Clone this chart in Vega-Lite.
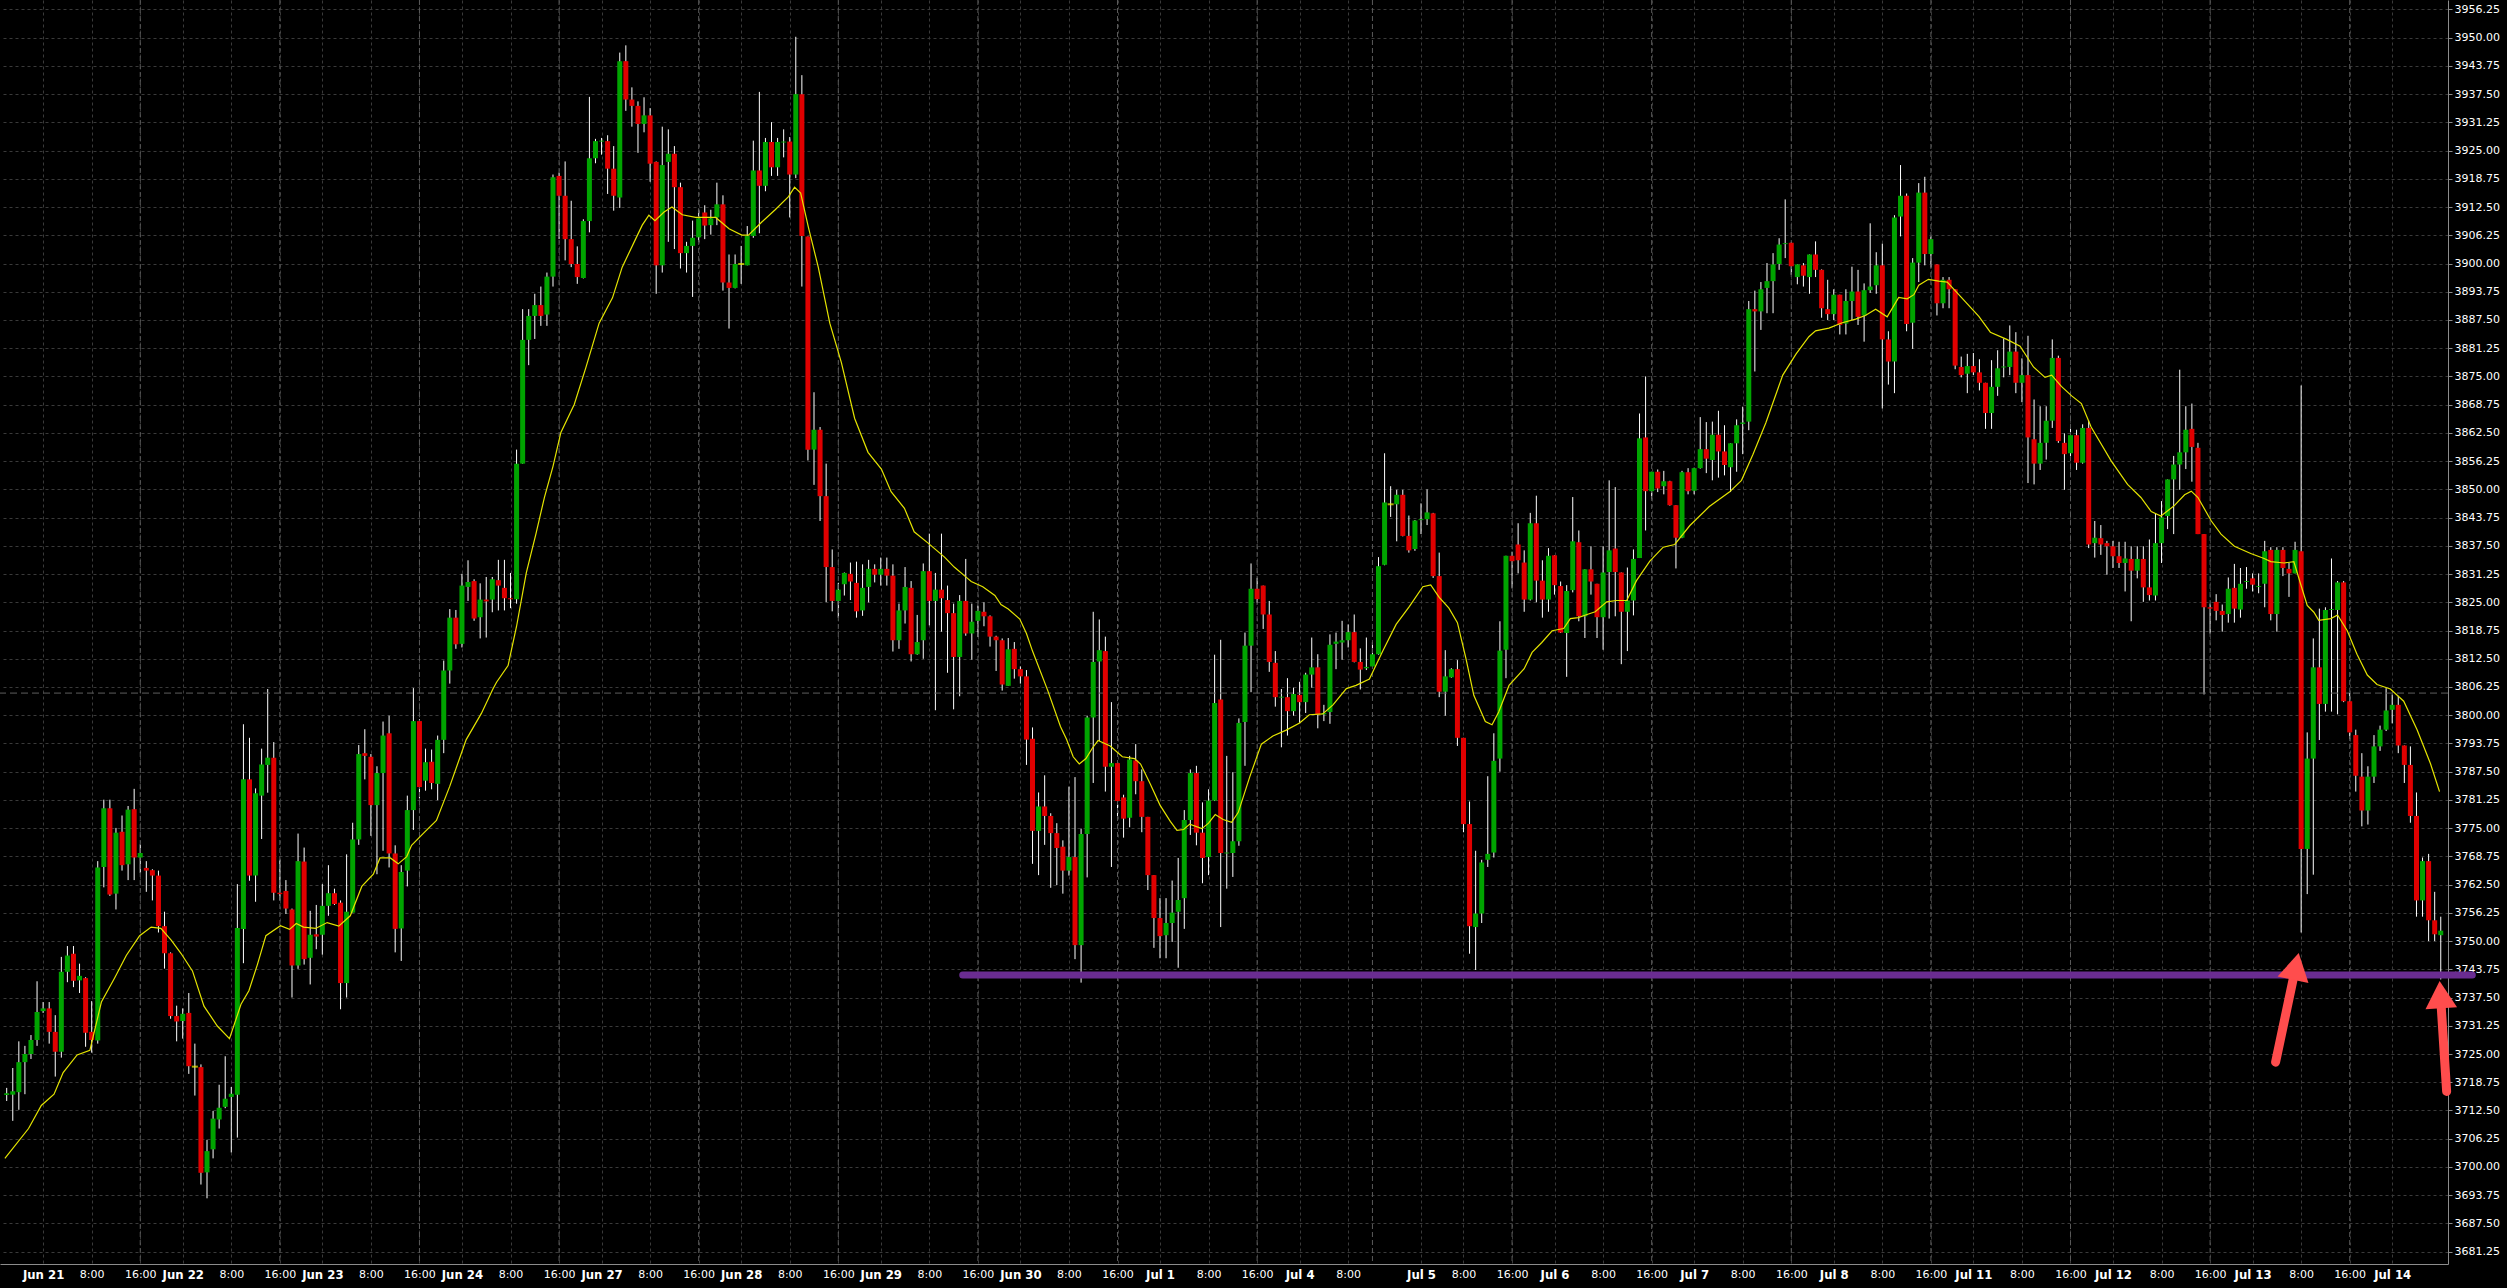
{
  "$schema": "https://vega.github.io/schema/vega-lite/v6.json",
  "autosize": {"type": "none"},
  "padding": {"left": 0, "top": 0, "right": 59, "bottom": 24},
  "width": 2448,
  "height": 1264,
  "background": "#000000",
  "config": {"view": {"stroke": null}},
  "datasets": {
    "bars": [
      {"i":0,"o":3715.9,"h":3717.5,"l":3714.6,"c":3716.3},{"i":1,"o":3716.0,"h":3721.9,"l":3710.2,"c":3716.75},{"i":2,"o":3716.55,"h":3727.8,"l":3712.65,"c":3723.2},{"i":3,"o":3723.2,"h":3726.8,"l":3716.1,"c":3725.0},{"i":4,"o":3725.0,"h":3729.2,"l":3723.9,"c":3728.1},{"i":5,"o":3728.1,"h":3741.1,"l":3726.8,"c":3734.3},{"i":6,"o":3734.5,"h":3736.5,"l":3734.1,"c":3735.1},{"i":7,"o":3735.1,"h":3736.5,"l":3727.3,"c":3729.9},{"i":8,"o":3729.9,"h":3733.6,"l":3720.0,"c":3725.5},{"i":9,"o":3725.5,"h":3746.5,"l":3724.2,"c":3743.2},
      {"i":10,"o":3743.2,"h":3748.9,"l":3740.9,"c":3746.8},{"i":11,"o":3747.2,"h":3748.9,"l":3739.8,"c":3741.2},{"i":12,"o":3741.3,"h":3745.0,"l":3738.5,"c":3742.3},{"i":13,"o":3741.8,"h":3742.0,"l":3726.6,"c":3729.7},{"i":14,"o":3729.9,"h":3736.7,"l":3725.3,"c":3728.1},{"i":15,"o":3728.0,"h":3767.7,"l":3727.3,"c":3766.3},{"i":16,"o":3766.4,"h":3781.3,"l":3761.9,"c":3779.4},{"i":17,"o":3779.4,"h":3781.3,"l":3760.0,"c":3760.3},{"i":18,"o":3760.5,"h":3775.05,"l":3757.0,"c":3774.0},{"i":19,"o":3774.2,"h":3777.8,"l":3765.6,"c":3766.8},
      {"i":20,"o":3767.0,"h":3779.9,"l":3763.5,"c":3779.1},{"i":21,"o":3779.2,"h":3783.7,"l":3763.5,"c":3768.5},{"i":22,"o":3768.5,"h":3771.4,"l":3765.1,"c":3769.5},{"i":23,"o":3766.2,"h":3767.7,"l":3760.9,"c":3765.6},{"i":24,"o":3765.7,"h":3765.9,"l":3759.0,"c":3764.5},{"i":25,"o":3764.5,"h":3765.6,"l":3751.9,"c":3753.3},{"i":26,"o":3753.3,"h":3756.5,"l":3743.9,"c":3747.3},{"i":27,"o":3747.3,"h":3747.5,"l":3732.8,"c":3733.4},{"i":28,"o":3733.4,"h":3735.7,"l":3727.8,"c":3732.2},{"i":29,"o":3732.3,"h":3735.1,"l":3728.4,"c":3733.9},
      {"i":30,"o":3734.1,"h":3738.5,"l":3720.6,"c":3722.3},{"i":31,"o":3722.2,"h":3727.3,"l":3715.8,"c":3722.2},{"i":32,"o":3722.1,"h":3722.7,"l":3696.1,"c":3698.7},{"i":33,"o":3698.8,"h":3706.0,"l":3693.05,"c":3703.5},{"i":34,"o":3703.9,"h":3712.4,"l":3701.9,"c":3710.7},{"i":35,"o":3710.5,"h":3718.2,"l":3708.5,"c":3713.1},{"i":36,"o":3713.3,"h":3724.5,"l":3713.0,"c":3715.1},{"i":37,"o":3715.5,"h":3717.7,"l":3703.2,"c":3716.2},{"i":38,"o":3716.0,"h":3762.6,"l":3706.5,"c":3752.9},{"i":39,"o":3752.7,"h":3798.0,"l":3745.1,"c":3785.8},
      {"i":40,"o":3785.8,"h":3795.0,"l":3763.35,"c":3764.5},{"i":41,"o":3764.5,"h":3783.8,"l":3758.7,"c":3782.7},{"i":42,"o":3782.2,"h":3792.6,"l":3772.6,"c":3789.1},{"i":43,"o":3789.0,"h":3805.8,"l":3782.85,"c":3790.6},{"i":44,"o":3790.6,"h":3794.05,"l":3759.0,"c":3760.7},{"i":45,"o":3760.7,"h":3768.0,"l":3759.0,"c":3760.4},{"i":46,"o":3761.1,"h":3763.5,"l":3756.0,"c":3757.2},{"i":47,"o":3757.0,"h":3757.2,"l":3737.5,"c":3744.6},{"i":48,"o":3744.6,"h":3773.8,"l":3743.85,"c":3767.7},{"i":49,"o":3767.6,"h":3770.7,"l":3744.8,"c":3746.0},
      {"i":50,"o":3746.3,"h":3756.7,"l":3740.4,"c":3751.4},{"i":51,"o":3751.5,"h":3758.0,"l":3748.2,"c":3751.0},{"i":52,"o":3751.4,"h":3762.6,"l":3747.0,"c":3757.8},{"i":53,"o":3757.8,"h":3766.8,"l":3755.6,"c":3760.6},{"i":54,"o":3760.6,"h":3761.6,"l":3758.0,"c":3758.2},{"i":55,"o":3758.5,"h":3759.0,"l":3734.9,"c":3740.7},{"i":56,"o":3740.7,"h":3769.2,"l":3737.5,"c":3756.5},{"i":57,"o":3756.3,"h":3776.2,"l":3756.3,"c":3772.5},{"i":58,"o":3772.5,"h":3793.4,"l":3771.3,"c":3791.4},{"i":59,"o":3791.6,"h":3796.9,"l":3785.8,"c":3791.0},
      {"i":60,"o":3790.8,"h":3791.4,"l":3773.3,"c":3780.1},{"i":61,"o":3780.1,"h":3788.7,"l":3764.8,"c":3787.2},{"i":62,"o":3787.2,"h":3798.6,"l":3770.0,"c":3795.5},{"i":63,"o":3796.0,"h":3799.9,"l":3766.3,"c":3769.4},{"i":64,"o":3769.4,"h":3771.2,"l":3747.5,"c":3752.7},{"i":65,"o":3752.8,"h":3766.8,"l":3745.6,"c":3765.3},{"i":66,"o":3765.6,"h":3782.2,"l":3762.1,"c":3779.0},{"i":67,"o":3779.0,"h":3806.0,"l":3774.6,"c":3798.7},{"i":68,"o":3798.7,"h":3799.1,"l":3781.6,"c":3784.1},{"i":69,"o":3785.5,"h":3792.6,"l":3783.3,"c":3789.6},
      {"i":70,"o":3789.7,"h":3792.4,"l":3783.6,"c":3785.0},{"i":71,"o":3784.8,"h":3795.5,"l":3781.2,"c":3794.55},{"i":72,"o":3794.55,"h":3812.1,"l":3791.6,"c":3809.9},{"i":73,"o":3809.9,"h":3823.5,"l":3807.0,"c":3821.6},{"i":74,"o":3821.6,"h":3823.3,"l":3814.7,"c":3815.7},{"i":75,"o":3815.8,"h":3831.3,"l":3815.0,"c":3828.7},{"i":76,"o":3828.4,"h":3834.3,"l":3825.3,"c":3829.5},{"i":77,"o":3829.7,"h":3830.1,"l":3820.9,"c":3821.4},{"i":78,"o":3821.7,"h":3829.2,"l":3817.0,"c":3825.6},{"i":79,"o":3825.6,"h":3830.6,"l":3817.2,"c":3825.2},
      {"i":80,"o":3825.6,"h":3830.6,"l":3822.8,"c":3830.1},{"i":81,"o":3829.9,"h":3834.4,"l":3823.2,"c":3828.7},{"i":82,"o":3828.2,"h":3834.4,"l":3823.2,"c":3825.9},{"i":83,"o":3825.9,"h":3831.5,"l":3823.7,"c":3825.7},{"i":84,"o":3825.7,"h":3858.8,"l":3824.7,"c":3855.7},{"i":85,"o":3855.7,"h":3889.9,"l":3855.7,"c":3883.1},{"i":86,"o":3883.1,"h":3889.9,"l":3877.5,"c":3888.4},{"i":87,"o":3888.4,"h":3893.3,"l":3883.3,"c":3890.8},{"i":88,"o":3890.8,"h":3894.9,"l":3886.2,"c":3888.4},{"i":89,"o":3888.7,"h":3898.0,"l":3886.2,"c":3897.1},
      {"i":90,"o":3897.1,"h":3919.7,"l":3894.9,"c":3919.1},{"i":91,"o":3919.4,"h":3920.1,"l":3905.4,"c":3915.0},{"i":92,"o":3915.0,"h":3922.6,"l":3900.7,"c":3905.4},{"i":93,"o":3905.4,"h":3913.9,"l":3899.2,"c":3899.9},{"i":94,"o":3899.9,"h":3903.8,"l":3895.5,"c":3897.0},{"i":95,"o":3896.8,"h":3909.8,"l":3896.7,"c":3909.4},{"i":96,"o":3909.4,"h":3936.9,"l":3906.9,"c":3923.3},{"i":97,"o":3923.3,"h":3927.6,"l":3922.2,"c":3927.1},{"i":98,"o":3927.0,"h":3927.8,"l":3924.1,"c":3927.2},{"i":99,"o":3927.1,"h":3928.4,"l":3915.4,"c":3921.0},
      {"i":100,"o":3921.0,"h":3926.0,"l":3911.7,"c":3915.0},{"i":101,"o":3914.6,"h":3946.7,"l":3912.3,"c":3944.8},{"i":102,"o":3944.8,"h":3948.3,"l":3933.8,"c":3936.3},{"i":103,"o":3936.3,"h":3939.0,"l":3930.3,"c":3934.9},{"i":104,"o":3934.9,"h":3935.9,"l":3924.5,"c":3930.9},{"i":105,"o":3930.9,"h":3936.8,"l":3929.05,"c":3932.8},{"i":106,"o":3932.8,"h":3934.4,"l":3918.1,"c":3922.1},{"i":107,"o":3922.5,"h":3922.6,"l":3893.3,"c":3899.6},{"i":108,"o":3899.6,"h":3930.3,"l":3898.0,"c":3921.8},{"i":109,"o":3922.5,"h":3929.7,"l":3904.8,"c":3924.3},
      {"i":110,"o":3924.3,"h":3926.0,"l":3903.2,"c":3916.9},{"i":111,"o":3916.9,"h":3917.9,"l":3898.9,"c":3902.3},{"i":112,"o":3902.3,"h":3904.8,"l":3898.0,"c":3903.9},{"i":113,"o":3903.9,"h":3909.5,"l":3892.6,"c":3905.7},{"i":114,"o":3905.8,"h":3912.0,"l":3904.8,"c":3910.0},{"i":115,"o":3911.3,"h":3912.9,"l":3905.4,"c":3908.4},{"i":116,"o":3908.5,"h":3911.9,"l":3906.4,"c":3910.0},{"i":117,"o":3910.2,"h":3917.9,"l":3908.5,"c":3913.1},{"i":118,"o":3913.1,"h":3915.1,"l":3894.0,"c":3895.8},{"i":119,"o":3895.8,"h":3902.0,"l":3885.6,"c":3894.6},
      {"i":120,"o":3894.6,"h":3902.0,"l":3894.5,"c":3899.9},{"i":121,"o":3899.9,"h":3903.9,"l":3895.5,"c":3899.9},{"i":122,"o":3899.6,"h":3908.3,"l":3899.6,"c":3906.1},{"i":123,"o":3906.1,"h":3927.2,"l":3905.7,"c":3920.6},{"i":124,"o":3920.6,"h":3938.0,"l":3906.7,"c":3917.2},{"i":125,"o":3917.2,"h":3927.8,"l":3916.0,"c":3926.9},{"i":126,"o":3926.9,"h":3931.3,"l":3919.4,"c":3921.3},{"i":127,"o":3921.3,"h":3927.8,"l":3919.4,"c":3926.9},{"i":128,"o":3926.8,"h":3929.7,"l":3923.5,"c":3927.0},{"i":129,"o":3927.0,"h":3928.0,"l":3910.2,"c":3919.7},
      {"i":130,"o":3919.7,"h":3950.2,"l":3918.9,"c":3937.5},{"i":131,"o":3937.5,"h":3941.7,"l":3894.9,"c":3906.1},{"i":132,"o":3906.0,"h":3906.0,"l":3856.4,"c":3858.8},{"i":133,"o":3858.8,"h":3871.5,"l":3851.0,"c":3863.2},{"i":134,"o":3863.2,"h":3863.8,"l":3843.0,"c":3848.5},{"i":135,"o":3848.5,"h":3855.7,"l":3825.05,"c":3832.8},{"i":136,"o":3832.8,"h":3836.7,"l":3823.0,"c":3825.3},{"i":137,"o":3825.3,"h":3829.3,"l":3821.6,"c":3827.8},{"i":138,"o":3829.0,"h":3831.6,"l":3826.5,"c":3831.5},{"i":139,"o":3831.3,"h":3833.8,"l":3825.5,"c":3829.6},
      {"i":140,"o":3829.3,"h":3834.0,"l":3821.6,"c":3823.0},{"i":141,"o":3823.2,"h":3833.4,"l":3822.0,"c":3828.2},{"i":142,"o":3828.4,"h":3834.4,"l":3825.0,"c":3832.4},{"i":143,"o":3832.4,"h":3833.4,"l":3829.4,"c":3831.1},{"i":144,"o":3831.1,"h":3834.9,"l":3828.7,"c":3832.4},{"i":145,"o":3832.4,"h":3834.9,"l":3828.7,"c":3830.9},{"i":146,"o":3830.9,"h":3833.4,"l":3814.1,"c":3816.6},{"i":147,"o":3816.6,"h":3824.7,"l":3814.7,"c":3823.2},{"i":148,"o":3823.2,"h":3832.8,"l":3820.3,"c":3828.4},{"i":149,"o":3828.2,"h":3829.7,"l":3811.9,"c":3813.5},
      {"i":150,"o":3813.5,"h":3822.2,"l":3813.4,"c":3816.2},{"i":151,"o":3816.6,"h":3833.6,"l":3812.5,"c":3831.9},{"i":152,"o":3831.9,"h":3840.2,"l":3819.9,"c":3825.3},{"i":153,"o":3825.3,"h":3831.5,"l":3801.1,"c":3827.8},{"i":154,"o":3827.8,"h":3840.2,"l":3818.5,"c":3825.9},{"i":155,"o":3825.5,"h":3828.7,"l":3809.4,"c":3822.6},{"i":156,"o":3822.6,"h":3824.7,"l":3801.3,"c":3812.9},{"i":157,"o":3812.9,"h":3826.6,"l":3804.2,"c":3825.3},{"i":158,"o":3825.3,"h":3834.6,"l":3817.6,"c":3818.1},{"i":159,"o":3818.1,"h":3824.7,"l":3812.3,"c":3820.7},
      {"i":160,"o":3820.9,"h":3824.3,"l":3817.3,"c":3823.1},{"i":161,"o":3822.9,"h":3825.0,"l":3819.7,"c":3821.9},{"i":162,"o":3821.9,"h":3822.1,"l":3815.2,"c":3817.4},{"i":163,"o":3817.4,"h":3817.6,"l":3809.8,"c":3816.6},{"i":164,"o":3816.6,"h":3817.0,"l":3805.45,"c":3806.8},{"i":165,"o":3806.5,"h":3817.1,"l":3806.5,"c":3814.6},{"i":166,"o":3814.7,"h":3816.2,"l":3808.1,"c":3810.2},{"i":167,"o":3810.2,"h":3810.8,"l":3807.0,"c":3808.6},{"i":168,"o":3808.6,"h":3810.0,"l":3789.0,"c":3794.6},{"i":169,"o":3794.8,"h":3797.3,"l":3767.1,"c":3774.4},
      {"i":170,"o":3774.4,"h":3782.9,"l":3764.6,"c":3779.8},{"i":171,"o":3779.8,"h":3786.7,"l":3771.3,"c":3777.7},{"i":172,"o":3777.7,"h":3778.3,"l":3761.8,"c":3773.9},{"i":173,"o":3773.9,"h":3776.1,"l":3762.4,"c":3770.6},{"i":174,"o":3770.9,"h":3772.3,"l":3760.5,"c":3765.6},{"i":175,"o":3765.6,"h":3784.2,"l":3764.5,"c":3768.6},{"i":176,"o":3768.6,"h":3786.3,"l":3746.0,"c":3749.1},{"i":177,"o":3749.1,"h":3774.9,"l":3740.8,"c":3773.7},{"i":178,"o":3773.7,"h":3799.9,"l":3764.1,"c":3799.5},{"i":179,"o":3799.5,"h":3822.9,"l":3785.0,"c":3811.8},
      {"i":180,"o":3811.9,"h":3821.2,"l":3794.3,"c":3814.4},{"i":181,"o":3814.2,"h":3817.4,"l":3783.1,"c":3788.6},{"i":182,"o":3788.6,"h":3802.9,"l":3766.4,"c":3789.4},{"i":183,"o":3789.4,"h":3789.4,"l":3777.7,"c":3781.0},{"i":184,"o":3781.8,"h":3782.4,"l":3772.9,"c":3777.1},{"i":185,"o":3777.3,"h":3791.0,"l":3775.2,"c":3790.2},{"i":186,"o":3790.0,"h":3793.6,"l":3782.5,"c":3785.4},{"i":187,"o":3785.4,"h":3788.0,"l":3774.1,"c":3777.5},{"i":188,"o":3777.5,"h":3777.5,"l":3761.3,"c":3764.6},{"i":189,"o":3764.6,"h":3764.6,"l":3748.5,"c":3755.1},
      {"i":190,"o":3755.1,"h":3759.5,"l":3746.2,"c":3751.1},{"i":191,"o":3751.3,"h":3759.5,"l":3746.2,"c":3754.0},{"i":192,"o":3754.0,"h":3763.4,"l":3749.8,"c":3756.3},{"i":193,"o":3756.5,"h":3768.4,"l":3744.1,"c":3759.1},{"i":194,"o":3759.5,"h":3779.0,"l":3752.7,"c":3776.8},{"i":195,"o":3776.8,"h":3788.0,"l":3773.5,"c":3787.2},{"i":196,"o":3787.2,"h":3788.8,"l":3771.2,"c":3774.0},{"i":197,"o":3774.0,"h":3780.7,"l":3762.8,"c":3768.4},{"i":198,"o":3768.6,"h":3783.6,"l":3764.6,"c":3781.1},{"i":199,"o":3781.1,"h":3813.4,"l":3781.0,"c":3802.7},
      {"i":200,"o":3803.5,"h":3816.7,"l":3753.1,"c":3769.5},{"i":201,"o":3769.4,"h":3791.0,"l":3761.6,"c":3769.6},{"i":202,"o":3769.5,"h":3787.4,"l":3764.2,"c":3772.1},{"i":203,"o":3772.1,"h":3799.3,"l":3771.1,"c":3798.3},{"i":204,"o":3798.5,"h":3818.3,"l":3788.8,"c":3815.4},{"i":205,"o":3815.4,"h":3833.6,"l":3805.1,"c":3828.0},{"i":206,"o":3828.0,"h":3830.4,"l":3824.9,"c":3825.7},{"i":207,"o":3828.7,"h":3828.7,"l":3819.1,"c":3822.3},{"i":208,"o":3822.3,"h":3825.3,"l":3809.6,"c":3811.8},{"i":209,"o":3811.6,"h":3814.2,"l":3801.9,"c":3804.0},
      {"i":210,"o":3803.9,"h":3805.8,"l":3792.9,"c":3804.1},{"i":211,"o":3804.0,"h":3808.2,"l":3795.5,"c":3800.9},{"i":212,"o":3800.9,"h":3806.1,"l":3799.9,"c":3804.7},{"i":213,"o":3804.5,"h":3807.4,"l":3798.3,"c":3802.9},{"i":214,"o":3802.9,"h":3809.4,"l":3800.5,"c":3809.0},{"i":215,"o":3809.0,"h":3817.2,"l":3806.1,"c":3810.6},{"i":216,"o":3810.6,"h":3813.5,"l":3797.1,"c":3800.1},{"i":217,"o":3800.2,"h":3802.3,"l":3798.7,"c":3800.5},{"i":218,"o":3800.7,"h":3817.9,"l":3798.1,"c":3815.6},{"i":219,"o":3815.8,"h":3818.3,"l":3810.2,"c":3816.3},
      {"i":220,"o":3816.1,"h":3820.9,"l":3812.3,"c":3816.6},{"i":221,"o":3816.6,"h":3820.1,"l":3815.0,"c":3818.4},{"i":222,"o":3818.4,"h":3822.3,"l":3811.7,"c":3811.8},{"i":223,"o":3811.8,"h":3814.8,"l":3805.7,"c":3810.1},{"i":224,"o":3810.4,"h":3817.2,"l":3810.0,"c":3810.7},{"i":225,"o":3810.8,"h":3816.2,"l":3810.8,"c":3813.5},{"i":226,"o":3813.5,"h":3835.0,"l":3813.4,"c":3833.0},{"i":227,"o":3833.3,"h":3858.0,"l":3833.2,"c":3847.1},{"i":228,"o":3846.7,"h":3850.7,"l":3843.9,"c":3846.7},{"i":229,"o":3846.7,"h":3849.9,"l":3838.5,"c":3848.8},
      {"i":230,"o":3848.8,"h":3849.9,"l":3839.6,"c":3839.7},{"i":231,"o":3839.7,"h":3844.2,"l":3836.0,"c":3836.5},{"i":232,"o":3836.8,"h":3843.2,"l":3836.4,"c":3843.1},{"i":233,"o":3843.2,"h":3846.9,"l":3840.1,"c":3843.4},{"i":234,"o":3843.4,"h":3850.0,"l":3842.1,"c":3844.9},{"i":235,"o":3844.7,"h":3844.8,"l":3830.4,"c":3830.8},{"i":236,"o":3830.8,"h":3836.0,"l":3804.0,"c":3805.2},{"i":237,"o":3805.2,"h":3814.4,"l":3799.9,"c":3808.6},{"i":238,"o":3808.4,"h":3810.4,"l":3808.3,"c":3810.2},{"i":239,"o":3810.2,"h":3812.2,"l":3793.2,"c":3795.0},
      {"i":240,"o":3795.0,"h":3795.0,"l":3774.1,"c":3775.9},{"i":241,"o":3775.9,"h":3780.9,"l":3747.2,"c":3753.3},{"i":242,"o":3753.1,"h":3770.0,"l":3743.6,"c":3756.1},{"i":243,"o":3756.1,"h":3768.0,"l":3754.0,"c":3767.4},{"i":244,"o":3768.0,"h":3786.5,"l":3766.4,"c":3769.3},{"i":245,"o":3769.6,"h":3796.0,"l":3768.5,"c":3789.9},{"i":246,"o":3790.4,"h":3820.8,"l":3787.5,"c":3814.3},{"i":247,"o":3814.5,"h":3835.3,"l":3808.2,"c":3835.3},{"i":248,"o":3835.3,"h":3836.2,"l":3828.2,"c":3834.1},{"i":249,"o":3837.8,"h":3842.5,"l":3831.4,"c":3834.3},
      {"i":250,"o":3833.8,"h":3836.5,"l":3822.9,"c":3825.6},{"i":251,"o":3825.6,"h":3844.8,"l":3825.4,"c":3842.5},{"i":252,"o":3842.5,"h":3848.6,"l":3825.0,"c":3829.8},{"i":253,"o":3829.8,"h":3834.3,"l":3821.6,"c":3825.6},{"i":254,"o":3825.6,"h":3837.0,"l":3822.9,"c":3835.3},{"i":255,"o":3835.4,"h":3835.4,"l":3826.7,"c":3828.8},{"i":256,"o":3828.6,"h":3829.6,"l":3818.2,"c":3818.3},{"i":257,"o":3818.2,"h":3828.8,"l":3808.5,"c":3827.5},{"i":258,"o":3827.7,"h":3848.3,"l":3827.2,"c":3838.5},{"i":259,"o":3838.3,"h":3840.9,"l":3820.8,"c":3821.9},
      {"i":260,"o":3821.9,"h":3832.3,"l":3817.1,"c":3832.3},{"i":261,"o":3832.3,"h":3837.4,"l":3826.7,"c":3829.6},{"i":262,"o":3829.1,"h":3829.1,"l":3817.1,"c":3821.7},{"i":263,"o":3821.7,"h":3837.4,"l":3814.5,"c":3831.6},{"i":264,"o":3831.7,"h":3852.0,"l":3821.4,"c":3836.5},{"i":265,"o":3836.9,"h":3850.5,"l":3821.9,"c":3831.7},{"i":266,"o":3831.6,"h":3831.6,"l":3811.3,"c":3822.9},{"i":267,"o":3822.9,"h":3832.7,"l":3814.2,"c":3825.4},{"i":268,"o":3825.4,"h":3836.7,"l":3822.1,"c":3834.6},{"i":269,"o":3834.8,"h":3866.8,"l":3834.8,"c":3861.3},
      {"i":270,"o":3861.5,"h":3875.0,"l":3840.9,"c":3849.6},{"i":271,"o":3849.6,"h":3853.9,"l":3847.8,"c":3853.9},{"i":272,"o":3853.9,"h":3854.4,"l":3849.4,"c":3850.2},{"i":273,"o":3850.7,"h":3854.1,"l":3848.9,"c":3851.8},{"i":274,"o":3851.8,"h":3851.9,"l":3846.4,"c":3846.5},{"i":275,"o":3846.5,"h":3846.5,"l":3832.5,"c":3839.3},{"i":276,"o":3839.3,"h":3854.1,"l":3839.2,"c":3853.8},{"i":277,"o":3853.8,"h":3854.7,"l":3848.9,"c":3849.6},{"i":278,"o":3849.7,"h":3854.8,"l":3848.9,"c":3854.7},{"i":279,"o":3854.7,"h":3866.0,"l":3854.6,"c":3858.9},
      {"i":280,"o":3858.9,"h":3864.9,"l":3853.6,"c":3856.8},{"i":281,"o":3856.5,"h":3865.0,"l":3852.0,"c":3862.1},{"i":282,"o":3862.1,"h":3867.4,"l":3852.6,"c":3858.4},{"i":283,"o":3858.4,"h":3864.2,"l":3853.1,"c":3855.4},{"i":284,"o":3854.9,"h":3860.2,"l":3849.4,"c":3860.2},{"i":285,"o":3860.2,"h":3865.5,"l":3853.9,"c":3864.2},{"i":286,"o":3864.5,"h":3868.3,"l":3857.8,"c":3864.8},{"i":287,"o":3865.0,"h":3891.7,"l":3863.1,"c":3889.9},{"i":288,"o":3889.9,"h":3894.0,"l":3876.1,"c":3889.4},{"i":289,"o":3889.4,"h":3895.9,"l":3885.3,"c":3894.3},
      {"i":290,"o":3894.6,"h":3900.1,"l":3889.0,"c":3896.1},{"i":291,"o":3896.1,"h":3902.3,"l":3889.0,"c":3899.8},{"i":292,"o":3899.9,"h":3905.6,"l":3898.6,"c":3904.2},{"i":293,"o":3904.3,"h":3914.2,"l":3901.2,"c":3904.5},{"i":294,"o":3904.6,"h":3904.7,"l":3897.5,"c":3899.4},{"i":295,"o":3897.0,"h":3899.8,"l":3895.4,"c":3899.8},{"i":296,"o":3899.6,"h":3900.1,"l":3894.9,"c":3897.3},{"i":297,"o":3897.0,"h":3902.0,"l":3893.3,"c":3902.0},{"i":298,"o":3902.0,"h":3904.9,"l":3897.0,"c":3898.6},{"i":299,"o":3898.6,"h":3898.7,"l":3888.0,"c":3890.1},
      {"i":300,"o":3889.9,"h":3896.4,"l":3887.5,"c":3888.8},{"i":301,"o":3888.8,"h":3894.3,"l":3887.5,"c":3893.1},{"i":302,"o":3893.1,"h":3893.1,"l":3884.3,"c":3886.4},{"i":303,"o":3886.7,"h":3894.3,"l":3884.3,"c":3891.7},{"i":304,"o":3891.7,"h":3899.3,"l":3887.5,"c":3893.8},{"i":305,"o":3893.8,"h":3898.6,"l":3886.4,"c":3888.2},{"i":306,"o":3888.5,"h":3895.6,"l":3882.7,"c":3894.1},{"i":307,"o":3894.1,"h":3908.9,"l":3893.5,"c":3894.9},{"i":308,"o":3895.2,"h":3902.5,"l":3893.3,"c":3899.6},{"i":309,"o":3899.6,"h":3904.4,"l":3867.9,"c":3883.2},
      {"i":310,"o":3883.2,"h":3885.0,"l":3873.2,"c":3878.3},{"i":311,"o":3878.3,"h":3910.7,"l":3871.3,"c":3910.2},{"i":312,"o":3910.4,"h":3921.8,"l":3906.0,"c":3915.0},{"i":313,"o":3915.0,"h":3915.5,"l":3885.0,"c":3886.6},{"i":314,"o":3886.9,"h":3901.2,"l":3881.1,"c":3900.2},{"i":315,"o":3900.2,"h":3917.8,"l":3895.9,"c":3915.7},{"i":316,"o":3915.7,"h":3919.2,"l":3899.6,"c":3902.1},{"i":317,"o":3902.1,"h":3906.0,"l":3899.1,"c":3905.4},{"i":318,"o":3899.8,"h":3899.8,"l":3888.5,"c":3891.2},{"i":319,"o":3891.2,"h":3897.0,"l":3890.1,"c":3896.4},
      {"i":320,"o":3896.4,"h":3897.0,"l":3890.1,"c":3894.3},{"i":321,"o":3894.3,"h":3894.3,"l":3876.6,"c":3877.4},{"i":322,"o":3877.1,"h":3879.4,"l":3874.8,"c":3875.3},{"i":323,"o":3875.6,"h":3880.0,"l":3871.3,"c":3877.3},{"i":324,"o":3877.3,"h":3880.2,"l":3875.3,"c":3875.9},{"i":325,"o":3875.9,"h":3878.8,"l":3871.9,"c":3873.6},{"i":326,"o":3873.6,"h":3873.6,"l":3863.4,"c":3866.9},{"i":327,"o":3866.9,"h":3878.6,"l":3863.4,"c":3872.7},{"i":328,"o":3872.7,"h":3880.8,"l":3870.7,"c":3876.8},{"i":329,"o":3877.0,"h":3883.4,"l":3874.8,"c":3877.2},
      {"i":330,"o":3877.1,"h":3886.3,"l":3875.3,"c":3880.5},{"i":331,"o":3880.5,"h":3884.8,"l":3871.3,"c":3873.6},{"i":332,"o":3873.6,"h":3879.0,"l":3869.3,"c":3875.3},{"i":333,"o":3875.3,"h":3884.0,"l":3851.4,"c":3861.5},{"i":334,"o":3861.1,"h":3869.9,"l":3851.1,"c":3855.7},{"i":335,"o":3855.7,"h":3868.4,"l":3854.3,"c":3860.3},{"i":336,"o":3860.3,"h":3868.4,"l":3856.6,"c":3865.2},{"i":337,"o":3865.2,"h":3883.2,"l":3863.6,"c":3879.1},{"i":338,"o":3879.1,"h":3879.6,"l":3860.3,"c":3860.7},{"i":339,"o":3860.3,"h":3862.4,"l":3849.9,"c":3857.8},
      {"i":340,"o":3858.0,"h":3863.8,"l":3856.9,"c":3862.0},{"i":341,"o":3862.0,"h":3863.2,"l":3854.3,"c":3855.9},{"i":342,"o":3855.9,"h":3864.4,"l":3855.7,"c":3863.6},{"i":343,"o":3863.6,"h":3865.2,"l":3837.0,"c":3837.8},{"i":344,"o":3838.1,"h":3843.0,"l":3834.9,"c":3839.3},{"i":345,"o":3839.2,"h":3842.1,"l":3835.5,"c":3837.8},{"i":346,"o":3838.1,"h":3838.6,"l":3831.1,"c":3837.4},{"i":347,"o":3837.4,"h":3838.6,"l":3832.6,"c":3835.2},{"i":348,"o":3835.2,"h":3838.4,"l":3832.6,"c":3833.7},{"i":349,"o":3833.7,"h":3838.4,"l":3827.4,"c":3834.7},
      {"i":350,"o":3834.6,"h":3837.4,"l":3820.8,"c":3832.0},{"i":351,"o":3832.0,"h":3837.4,"l":3830.3,"c":3834.6},{"i":352,"o":3834.6,"h":3837.4,"l":3825.1,"c":3828.3},{"i":353,"o":3828.3,"h":3838.9,"l":3825.4,"c":3826.6},{"i":354,"o":3826.5,"h":3844.7,"l":3825.4,"c":3838.1},{"i":355,"o":3838.1,"h":3847.4,"l":3833.7,"c":3843.8},{"i":356,"o":3844.1,"h":3852.2,"l":3841.2,"c":3852.2},{"i":357,"o":3852.2,"h":3857.4,"l":3840.1,"c":3855.5},{"i":358,"o":3855.5,"h":3876.5,"l":3849.9,"c":3858.2},{"i":359,"o":3858.2,"h":3868.4,"l":3854.5,"c":3863.2},
      {"i":360,"o":3863.4,"h":3869.0,"l":3851.7,"c":3859.4},{"i":361,"o":3859.2,"h":3860.3,"l":3840.1,"c":3840.1},{"i":362,"o":3840.1,"h":3840.1,"l":3804.6,"c":3823.9},{"i":363,"o":3823.9,"h":3824.7,"l":3818.1,"c":3823.6},{"i":364,"o":3825.1,"h":3826.8,"l":3821.0,"c":3823.1},{"i":365,"o":3823.1,"h":3824.5,"l":3818.5,"c":3822.2},{"i":366,"o":3822.4,"h":3830.5,"l":3820.5,"c":3828.0},{"i":367,"o":3828.2,"h":3833.5,"l":3820.5,"c":3823.6},{"i":368,"o":3823.4,"h":3832.6,"l":3821.6,"c":3829.1},{"i":369,"o":3829.5,"h":3832.8,"l":3828.0,"c":3829.7},
      {"i":370,"o":3830.3,"h":3831.4,"l":3827.4,"c":3828.9},{"i":371,"o":3828.4,"h":3831.4,"l":3827.0,"c":3828.6},{"i":372,"o":3829.1,"h":3838.6,"l":3823.9,"c":3836.3},{"i":373,"o":3836.6,"h":3837.2,"l":3821.0,"c":3822.4},{"i":374,"o":3822.4,"h":3837.2,"l":3818.5,"c":3836.6},{"i":375,"o":3836.6,"h":3837.2,"l":3830.8,"c":3832.6},{"i":376,"o":3832.4,"h":3833.7,"l":3826.2,"c":3831.4},{"i":377,"o":3831.4,"h":3838.4,"l":3831.4,"c":3836.6},{"i":378,"o":3836.3,"h":3873.0,"l":3751.9,"c":3770.4},{"i":379,"o":3770.4,"h":3796.2,"l":3760.4,"c":3790.4},
      {"i":380,"o":3790.4,"h":3817.0,"l":3764.7,"c":3810.6},{"i":381,"o":3810.6,"h":3823.6,"l":3794.5,"c":3802.5},{"i":382,"o":3802.5,"h":3823.9,"l":3800.8,"c":3823.3},{"i":383,"o":3823.3,"h":3834.7,"l":3800.8,"c":3823.5},{"i":384,"o":3823.3,"h":3829.7,"l":3800.2,"c":3829.4},{"i":385,"o":3829.4,"h":3829.7,"l":3802.9,"c":3803.1},{"i":386,"o":3803.1,"h":3804.9,"l":3794.7,"c":3796.2},{"i":387,"o":3795.6,"h":3796.8,"l":3783.1,"c":3786.6},{"i":388,"o":3786.4,"h":3791.6,"l":3775.4,"c":3778.9},{"i":389,"o":3778.9,"h":3788.7,"l":3775.8,"c":3786.4},
      {"i":390,"o":3786.4,"h":3795.6,"l":3785.0,"c":3793.1},{"i":391,"o":3793.1,"h":3797.7,"l":3792.1,"c":3796.8},{"i":392,"o":3796.8,"h":3806.0,"l":3796.5,"c":3801.05},{"i":393,"o":3801.2,"h":3804.6,"l":3798.2,"c":3802.3},{"i":394,"o":3802.3,"h":3804.3,"l":3791.6,"c":3793.3},{"i":395,"o":3793.3,"h":3793.3,"l":3785.0,"c":3789.0},{"i":396,"o":3789.0,"h":3793.1,"l":3776.2,"c":3777.7},{"i":397,"o":3777.7,"h":3782.9,"l":3755.4,"c":3759.0},{"i":398,"o":3759.0,"h":3768.5,"l":3755.4,"c":3767.7},{"i":399,"o":3767.7,"h":3769.3,"l":3750.0,"c":3754.6},
      {"i":400,"o":3754.6,"h":3760.9,"l":3750.0,"c":3751.5},{"i":401,"o":3751.3,"h":3755.4,"l":3741.5,"c":3752.3}
    ],
    "ma": [
      {"i":-0.3,"v":3701.9},{"i":3.6,"v":3708.5},{"i":5.7,"v":3713.6},{"i":7.8,"v":3716.1},{"i":9.3,"v":3720.9},{"i":11.6,"v":3724.8},{"i":13.7,"v":3725.8},{"i":15.6,"v":3736.5},{"i":17.8,"v":3741.9},{"i":19.7,"v":3746.8},{"i":21.9,"v":3751.2},{"i":23.8,"v":3753.1},{"i":25.4,"v":3752.8},{"i":27.1,"v":3750.2},{"i":28.7,"v":3747.3},{"i":30.6,"v":3743.4},{"i":32.5,"v":3735.6},{"i":34.7,"v":3731.2},{"i":36.7,"v":3728.4},{"i":38.6,"v":3736.0},{"i":39.9,"v":3739.0},{"i":41.3,"v":3744.8},{"i":42.7,"v":3751.2},{"i":45.1,"v":3753.4},{"i":46.6,"v":3752.6},{"i":47.7,"v":3753.9},{"i":48.9,"v":3753.1},{"i":50.9,"v":3752.8},{"i":52.8,"v":3754.1},{"i":54.7,"v":3753.3},{"i":56.6,"v":3755.6},{"i":58.5,"v":3762.1},{"i":60.4,"v":3764.8},{"i":61.5,"v":3768.4},{"i":63.2,"v":3768.4},{"i":64.5,"v":3767.1},{"i":65.9,"v":3768.7},{"i":66.7,"v":3771.2},{"i":68.6,"v":3773.8},{"i":70.8,"v":3776.7},{"i":73.0,"v":3784.3},{"i":75.7,"v":3794.6},{"i":78.2,"v":3800.4},{"i":80.1,"v":3805.8},
      {"i":80.7,"v":3807.3},{"i":82.6,"v":3811.0},{"i":84.0,"v":3819.7},{"i":85.6,"v":3831.5},{"i":87.2,"v":3840.2},{"i":88.6,"v":3848.3},{"i":90.0,"v":3855.1},{"i":91.3,"v":3862.6},{"i":93.5,"v":3868.8},{"i":95.4,"v":3876.9},{"i":97.6,"v":3886.8},{"i":99.8,"v":3892.4},{"i":101.4,"v":3899.2},{"i":103.6,"v":3905.4},{"i":104.7,"v":3908.5},{"i":105.8,"v":3910.7},{"i":106.8,"v":3909.5},{"i":108.3,"v":3911.4},{"i":109.6,"v":3912.5},{"i":111.3,"v":3910.8},{"i":113.5,"v":3910.2},{"i":116.8,"v":3910.2},{"i":119.0,"v":3907.7},{"i":121.1,"v":3906.3},{"i":122.2,"v":3906.3},{"i":124.4,"v":3909.2},{"i":126.6,"v":3911.9},{"i":128.8,"v":3914.8},{"i":129.8,"v":3916.9},{"i":130.8,"v":3915.6},{"i":132.1,"v":3907.9},{"i":133.7,"v":3899.2},{"i":135.6,"v":3886.8},{"i":137.5,"v":3878.1},{"i":139.7,"v":3865.7},{"i":141.9,"v":3858.2},{"i":144.1,"v":3854.5},{"i":145.7,"v":3849.5},{"i":147.9,"v":3845.8},{"i":149.5,"v":3840.6},{"i":151.8,"v":3838.1},{"i":154.5,"v":3835.0},{"i":156.1,"v":3832.8},{"i":158.3,"v":3830.3},
      {"i":158.9,"v":3829.6},{"i":160.8,"v":3828.45},{"i":162.8,"v":3826.5},{"i":163.8,"v":3824.5},{"i":165.0,"v":3823.5},{"i":166.9,"v":3821.3},{"i":168.0,"v":3818.1},{"i":169.0,"v":3814.2},{"i":171.5,"v":3805.5},{"i":173.6,"v":3797.5},{"i":174.6,"v":3794.7},{"i":175.7,"v":3790.8},{"i":176.7,"v":3789.2},{"i":177.8,"v":3790.4},{"i":178.9,"v":3792.8},{"i":179.8,"v":3794.4},{"i":181.8,"v":3793.2},{"i":183.8,"v":3790.8},{"i":185.8,"v":3790.4},{"i":186.8,"v":3789.2},{"i":188.4,"v":3784.8},{"i":190.0,"v":3780.1},{"i":191.7,"v":3776.5},{"i":192.8,"v":3774.5},{"i":193.9,"v":3774.7},{"i":194.9,"v":3775.9},{"i":196.9,"v":3774.9},{"i":198.0,"v":3776.1},{"i":199.1,"v":3778.0},{"i":200.4,"v":3776.9},{"i":201.8,"v":3776.3},{"i":202.9,"v":3778.5},{"i":204.8,"v":3786.4},{"i":206.7,"v":3793.6},{"i":208.6,"v":3795.4},{"i":210.8,"v":3796.7},{"i":213.0,"v":3798.3},{"i":214.6,"v":3800.1},{"i":216.8,"v":3800.3},{"i":218.5,"v":3802.3},{"i":220.7,"v":3805.9},{"i":222.3,"v":3806.6},{"i":224.5,"v":3808.0},{"i":226.7,"v":3814.2},{"i":228.9,"v":3820.1},{"i":231.1,"v":3824.1},{"i":233.3,"v":3828.45},{"i":234.6,"v":3828.85},{"i":236.0,"v":3826.1},{"i":237.6,"v":3823.7},{"i":239.0,"v":3820.5},{"i":240.4,"v":3812.6},
      {"i":241.7,"v":3804.4},{"i":243.6,"v":3798.6},{"i":244.7,"v":3797.9},{"i":245.8,"v":3800.7},{"i":247.5,"v":3806.6},{"i":250.0,"v":3810.3},{"i":251.3,"v":3813.9},{"i":252.9,"v":3816.1},{"i":254.6,"v":3818.7},{"i":256.5,"v":3819.2},{"i":257.6,"v":3821.4},{"i":258.9,"v":3821.6},{"i":260.6,"v":3822.4},{"i":261.7,"v":3822.9},{"i":263.6,"v":3825.1},{"i":265.2,"v":3825.4},{"i":266.9,"v":3825.4},{"i":268.5,"v":3829.8},{"i":270.7,"v":3834.1},{"i":272.9,"v":3837.2},{"i":274.8,"v":3837.8},{"i":277.3,"v":3842.0},{"i":280.5,"v":3846.2},{"i":283.8,"v":3849.4},{"i":285.8,"v":3852.0},{"i":287.7,"v":3857.8},{"i":289.8,"v":3864.7},{"i":292.6,"v":3875.3},{"i":294.8,"v":3880.0},{"i":296.9,"v":3883.8},{"i":298.0,"v":3885.1},{"i":300.2,"v":3885.7},{"i":302.4,"v":3886.9},{"i":304.6,"v":3887.7},{"i":306.2,"v":3888.5},{"i":307.9,"v":3889.9},{"i":309.8,"v":3888.2},{"i":311.7,"v":3892.5},{"i":313.1,"v":3892.2},{"i":314.2,"v":3893.1},{"i":315.0,"v":3895.2},{"i":316.6,"v":3896.5},{"i":318.3,"v":3896.1},{"i":319.7,"v":3895.9},
      {"i":320.5,"v":3894.7},{"i":322.7,"v":3891.5},{"i":324.9,"v":3888.3},{"i":326.8,"v":3884.8},{"i":329.5,"v":3883.2},{"i":331.7,"v":3881.7},{"i":333.9,"v":3877.1},{"i":335.8,"v":3874.8},{"i":336.9,"v":3875.3},{"i":338.5,"v":3872.8},{"i":340.2,"v":3870.7},{"i":341.8,"v":3869.0},{"i":343.4,"v":3863.8},{"i":346.7,"v":3856.3},{"i":349.4,"v":3851.1},{"i":351.6,"v":3848.2},{"i":353.3,"v":3845.1},{"i":354.9,"v":3844.1},{"i":357.1,"v":3846.4},{"i":358.8,"v":3848.8},{"i":359.9,"v":3849.6},{"i":361.0,"v":3848.2},{"i":363.2,"v":3843.0},{"i":364.8,"v":3840.1},{"i":367.0,"v":3837.4},{"i":369.7,"v":3835.8},{"i":371.9,"v":3834.7},{"i":373.0,"v":3834.0},{"i":375.2,"v":3833.7},{"i":376.8,"v":3834.0},{"i":377.9,"v":3829.1},{"i":379.0,"v":3824.3},{"i":380.1,"v":3822.8},{"i":380.9,"v":3821.0},{"i":382.9,"v":3821.4},{"i":384.0,"v":3822.2},{"i":385.6,"v":3818.7},{"i":387.2,"v":3813.5},{"i":388.9,"v":3808.9},{"i":390.5,"v":3806.8},{"i":392.7,"v":3805.8},{"i":394.9,"v":3803.1},{"i":397.1,"v":3796.8},{"i":399.3,"v":3789.3},{"i":400.8,"v":3783.1}
    ],
    "seps": [{"i":22},{"i":45},{"i":68},{"i":91},{"i":114},{"i":137},{"i":160},{"i":183},{"i":206},{"i":225},{"i":248},{"i":271},{"i":294},{"i":317},{"i":340},{"i":363},{"i":386}],
    "level": [{"p":3804.9}],
    "support": [{"i":157.5,"i2":406.2,"p":3742.5}],
    "shafts": [{"i":373.79,"p":3723.2,"i2":377.13,"p2":3744.4},{"i":401.97,"p":3716.7,"i2":400.95,"p2":3738.15}],
    "heads": [{"i":377.13,"p":3744.4,"a":12},{"i":400.95,"p":3738.15,"a":-3.5}]
  },
  "layer": [
    {
      "data": {"name": "bars"},
      "mark": {"type": "rule", "color": "#ffffff", "strokeWidth": 1},
      "encoding": {
        "x": {"field": "i", "type": "quantitative", "title": null,
          "scale": {"domain": [-0.28, 401.37], "nice": false, "zero": false},
          "axis": {
            "title": null, "orient": "bottom", "tickCount": 200,
            "values": [6,14,22,29,37,45,52,60,68,75,83,91,98,106,114,121,129,137,144,152,160,167,175,183,190,198,206,213,221,233,240,248,255,263,271,278,286,294,301,309,317,324,332,340,347,355,363,370,378,386,393],
            "labelExpr": "['Jun 21','8:00','16:00','Jun 22','8:00','16:00','Jun 23','8:00','16:00','Jun 24','8:00','16:00','Jun 27','8:00','16:00','Jun 28','8:00','16:00','Jun 29','8:00','16:00','Jun 30','8:00','16:00','Jul 1','8:00','16:00','Jul 4','8:00','Jul 5','8:00','16:00','Jul 6','8:00','16:00','Jul 7','8:00','16:00','Jul 8','8:00','16:00','Jul 11','8:00','16:00','Jul 12','8:00','16:00','Jul 13','8:00','16:00','Jul 14'][indexof([6,14,22,29,37,45,52,60,68,75,83,91,98,106,114,121,129,137,144,152,160,167,175,183,190,198,206,213,221,233,240,248,255,263,271,278,286,294,301,309,317,324,332,340,347,355,363,370,378,386,393], datum.value)]",
            "grid": true, "gridColor": "#3a3a3a", "gridDash": [3, 3], "gridWidth": 1,
            "domain": true, "domainColor": "#8c8c8c", "domainWidth": 1,
            "ticks": false, "tickSize": 0,
            "labelColor": "#ffffff",
            "labelFont": {"condition": {"test": "indexof([6,29,52,75,98,121,144,167,190,213,233,255,278,301,324,347,370,393], datum.value) >= 0", "value": "DejaVu Sans Condensed"}, "value": "DejaVu Sans"},
            "labelFontWeight": {"condition": {"test": "indexof([6,29,52,75,98,121,144,167,190,213,233,255,278,301,324,347,370,393], datum.value) >= 0", "value": "bold"}, "value": "normal"},
            "labelFontSize": {"condition": {"test": "indexof([6,29,52,75,98,121,144,167,190,213,233,255,278,301,324,347,370,393], datum.value) >= 0", "value": 13}, "value": 11},
            "labelPadding": 4, "labelAngle": 0, "labelOverlap": false, "labelFlush": false, "labelBound": false
          }
        },
        "y": {"field": "l", "type": "quantitative", "title": null,
          "scale": {"domain": [3678.51, 3958.34], "nice": false, "zero": false},
          "axis": {
            "title": null, "orient": "right", "tickCount": 200,
            "values": [3681.25,3687.5,3693.75,3700,3706.25,3712.5,3718.75,3725,3731.25,3737.5,3743.75,3750,3756.25,3762.5,3768.75,3775,3781.25,3787.5,3793.75,3800,3806.25,3812.5,3818.75,3825,3831.25,3837.5,3843.75,3850,3856.25,3862.5,3868.75,3875,3881.25,3887.5,3893.75,3900,3906.25,3912.5,3918.75,3925,3931.25,3937.5,3943.75,3950,3956.25],
            "format": ".2f",
            "grid": true, "gridColor": "#3a3a3a", "gridDash": [3, 3], "gridWidth": 1,
            "domain": true, "domainColor": "#8c8c8c", "domainWidth": 1,
            "ticks": true, "tickColor": "#8c8c8c", "tickSize": 4,
            "labelColor": "#ffffff", "labelFont": "DejaVu Sans", "labelFontSize": 11,
            "labelPadding": 2, "labelOverlap": false, "labelFlush": false, "labelBound": false
          }
        },
        "y2": {"field": "h"}
      }
    },
    {
      "data": {"name": "seps"},
      "mark": {"type": "rule", "color": "#5a5a5a", "strokeDash": [5, 3], "strokeWidth": 1},
      "encoding": {
        "x": {"field": "i", "type": "quantitative", "title": null, "scale": {"domain": [-0.28, 401.37], "nice": false, "zero": false}}
      }
    },
    {
      "data": {"name": "level"},
      "mark": {"type": "rule", "color": "#5e5e5e", "strokeDash": [7, 4], "strokeWidth": 1},
      "encoding": {
        "y": {"field": "p", "type": "quantitative", "title": null, "scale": {"domain": [3678.51, 3958.34], "nice": false, "zero": false}}
      }
    },
    {
      "data": {"name": "bars"},
      "transform": [{"filter": "datum.o != datum.c"}],
      "mark": {"type": "bar"},
      "encoding": {
        "x": {"field": "i", "type": "quantitative", "title": null, "scale": {"domain": [-0.28, 401.37], "nice": false, "zero": false}},
        "y": {"field": "o", "type": "quantitative", "title": null, "scale": {"domain": [3678.51, 3958.34], "nice": false, "zero": false}},
        "y2": {"field": "c"},
        "size": {"value": 5},
        "color": {"condition": {"test": "datum.c > datum.o", "value": "#00a400"}, "value": "#e00000"}
      }
    },
    {
      "data": {"name": "bars"},
      "transform": [{"filter": "datum.o == datum.c"}],
      "mark": {"type": "tick", "orient": "horizontal", "thickness": 2, "size": 6, "color": "#f0f000"},
      "encoding": {
        "x": {"field": "i", "type": "quantitative", "title": null, "scale": {"domain": [-0.28, 401.37], "nice": false, "zero": false}},
        "y": {"field": "o", "type": "quantitative", "title": null, "scale": {"domain": [3678.51, 3958.34], "nice": false, "zero": false}}
      }
    },
    {
      "data": {"name": "ma"},
      "mark": {"type": "line", "color": "#e4e400", "strokeWidth": 1.2},
      "encoding": {
        "x": {"field": "i", "type": "quantitative", "title": null, "scale": {"domain": [-0.28, 401.37], "nice": false, "zero": false}},
        "y": {"field": "v", "type": "quantitative", "title": null, "scale": {"domain": [3678.51, 3958.34], "nice": false, "zero": false}}
      }
    },
    {
      "data": {"name": "support"},
      "mark": {"type": "rule", "color": "#6a2c91", "strokeWidth": 7, "strokeCap": "round"},
      "encoding": {
        "x": {"field": "i", "type": "quantitative", "title": null, "scale": {"domain": [-0.28, 401.37], "nice": false, "zero": false}},
        "x2": {"field": "i2"},
        "y": {"field": "p", "type": "quantitative", "title": null, "scale": {"domain": [3678.51, 3958.34], "nice": false, "zero": false}}
      }
    },
    {
      "data": {"name": "shafts"},
      "mark": {"type": "rule", "color": "#ff4d4d", "strokeWidth": 9, "strokeCap": "round"},
      "encoding": {
        "x": {"field": "i", "type": "quantitative", "title": null, "scale": {"domain": [-0.28, 401.37], "nice": false, "zero": false}},
        "x2": {"field": "i2"},
        "y": {"field": "p", "type": "quantitative", "title": null, "scale": {"domain": [3678.51, 3958.34], "nice": false, "zero": false}},
        "y2": {"field": "p2"}
      }
    },
    {
      "data": {"name": "heads"},
      "mark": {"type": "point", "shape": "triangle-up", "filled": true, "size": 1000, "color": "#ff4d4d", "opacity": 1},
      "encoding": {
        "x": {"field": "i", "type": "quantitative", "title": null, "scale": {"domain": [-0.28, 401.37], "nice": false, "zero": false}},
        "y": {"field": "p", "type": "quantitative", "title": null, "scale": {"domain": [3678.51, 3958.34], "nice": false, "zero": false}},
        "angle": {"field": "a", "type": "quantitative", "scale": null}
      }
    }
  ]
}
